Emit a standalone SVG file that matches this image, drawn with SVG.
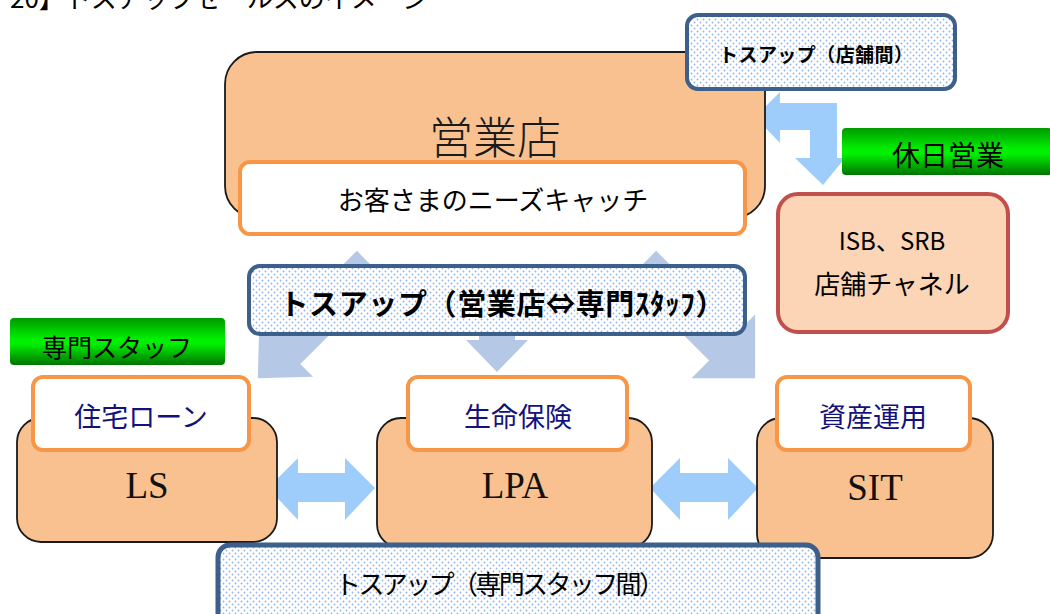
<svg xmlns="http://www.w3.org/2000/svg" width="1050" height="614" viewBox="0 0 1050 614">
<defs>
<pattern id="dots" width="6" height="6" patternUnits="userSpaceOnUse">
<rect width="6" height="6" fill="#ffffff"/>
<circle cx="1.5" cy="1.5" r="0.9" fill="#8EB4E3"/>
<circle cx="4.5" cy="4.5" r="0.9" fill="#8EB4E3"/>
</pattern>
<linearGradient id="green" x1="0" y1="0" x2="0" y2="1">
<stop offset="0" stop-color="#009A00"/>
<stop offset="0.45" stop-color="#00F000"/>
<stop offset="0.55" stop-color="#00F000"/>
<stop offset="1" stop-color="#007400"/>
</linearGradient>
<style>
.peach{fill:#F9C18F;stroke:#1a1a1a;stroke-width:1.8}
.white{fill:#ffffff;stroke:#F79646;stroke-width:4}
.dotbox{fill:url(#dots);stroke:#3C5F8C;stroke-width:4}
.greenlbl{fill:url(#green)}
.jp{font-family:"Noto Sans CJK JP","Noto Sans",sans-serif;fill:#000}
.serif{font-family:"Liberation Serif",serif;fill:#111}
.mincho{font-family:"Noto Sans CJK JP",sans-serif;font-weight:300;fill:#1a1a1a}
.navy{fill:#12127A}
.tossarrow{fill:#B5C8E6}
.blue{fill:#9ECDFB}
</style>
</defs>

<text class="jp" x="10" y="8" font-size="26">20】トスアップセールスのイメージ</text>

<g id="connectors">
<polygon class="tossarrow" transform="translate(371,265) rotate(135)" points="0,-20 120,-20 120,-38 160,0 120,38 120,20 0,20"/>
<polygon class="tossarrow" transform="translate(642,265) rotate(45)" points="0,-20 115,-20 115,-45 160,0 115,45 115,20 0,20"/>
<polygon class="tossarrow" transform="translate(497,280) rotate(90)" points="0,-18 60,-18 60,-31 92,0 60,31 60,18 0,18"/>
<polygon class="blue" points="755,117 780,92 780,103 837,103 837,158 845,158 823,185 795,158 810,158 810,130 780,130 780,143"/>
<polygon class="blue" points="268,488 298,458 298,473 345,473 345,458 375,488 345,520 345,502 298,502 298,520"/>
<polygon class="blue" points="650,488 680,458 680,473 728,473 728,458 758,488 728,520 728,502 680,502 680,520"/>
</g>

<g id="eigyoten">
<rect class="peach" x="225" y="52" width="540" height="166" rx="32"/>
<text class="mincho" x="495" y="154" font-size="44" text-anchor="middle">営業店</text>
</g>
<g id="needs">
<rect class="white" x="240" y="162" width="505" height="72" rx="10"/>
<text class="jp" x="493" y="210" font-size="26" text-anchor="middle">お客さまのニーズキャッチ</text>
</g>

<g id="toss-tenpo">
<rect class="dotbox" x="687" y="15" width="268" height="74" rx="11"/>
<text class="jp" x="816" y="62" font-size="19" font-weight="bold" text-anchor="middle" textLength="194">トスアップ（店舗間）</text>
</g>

<g id="kyujitsu">
<rect class="greenlbl" x="842" y="128" width="210" height="47" rx="4"/>
<text class="jp" x="948" y="166" font-size="28" text-anchor="middle">休日営業</text>
</g>

<g id="isb">
<rect x="778" y="194" width="230" height="138" rx="20" fill="#FBD5B5" stroke="#C0504D" stroke-width="4"/>
<text class="jp" x="892" y="250" font-size="24" text-anchor="middle">ISB、SRB</text>
<text class="jp" x="892" y="294" font-size="26" text-anchor="middle">店舗チャネル</text>
</g>

<g id="toss-main">
<rect class="dotbox" x="249" y="266" width="496" height="68" rx="11"/>
<text class="jp" x="502" y="315" font-size="29" font-weight="bold" text-anchor="middle" textLength="445">トスアップ（営業店⇔専門ｽﾀｯﾌ）</text>
</g>

<g id="senmon">
<rect class="greenlbl" x="10" y="318" width="215" height="47" rx="4"/>
<text class="jp" x="117" y="357" font-size="25" text-anchor="middle">専門スタッフ</text>
</g>

<g id="ls">
<rect class="peach" x="17" y="418" width="260" height="124" rx="24"/>
<rect class="white" x="33" y="377" width="216" height="73" rx="10"/>
<text class="jp navy" x="141" y="427" font-size="27" text-anchor="middle">住宅ローン</text>
<text class="serif" x="147" y="498" font-size="37" text-anchor="middle">LS</text>
</g>

<g id="lpa">
<rect class="peach" x="377" y="418" width="275" height="130" rx="24"/>
<rect class="white" x="408" y="377" width="219" height="73" rx="10"/>
<text class="jp navy" x="518" y="427" font-size="27" text-anchor="middle">生命保険</text>
<text class="serif" x="515" y="498" font-size="37" text-anchor="middle">LPA</text>
</g>

<g id="sit">
<rect class="peach" x="757" y="418" width="236" height="140" rx="24"/>
<rect class="white" x="777" y="377" width="193" height="73" rx="10"/>
<text class="jp navy" x="873" y="427" font-size="27" text-anchor="middle">資産運用</text>
<text class="serif" x="875" y="500" font-size="37" text-anchor="middle">SIT</text>
</g>

<g id="toss-senmon">
<rect x="218" y="545" width="600" height="80" rx="12" fill="url(#dots)" stroke="#3C5F8C" stroke-width="5"/>
<text class="jp" x="500" y="594" font-size="26" text-anchor="middle" textLength="330">トスアップ（専門スタッフ間）</text>
</g>
</svg>
